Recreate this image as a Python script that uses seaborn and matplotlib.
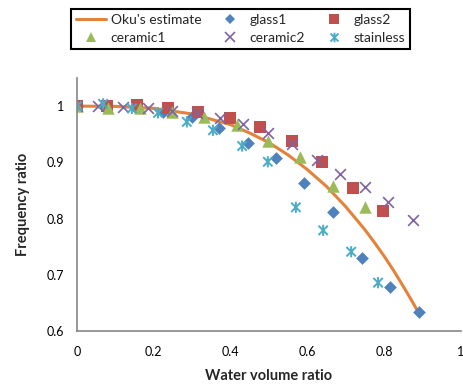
import numpy as np
import pandas as pd
import matplotlib
matplotlib.use("Agg")
import matplotlib.pyplot as plt
from matplotlib.path import Path
from matplotlib.lines import Line2D
import seaborn as sns

# Oku's estimate (curve)
oku_x = [0, 0.1, 0.2, 0.3, 0.4, 0.45, 0.5, 0.55, 0.6, 0.65, 0.7, 0.75, 0.775, 0.8, 0.825, 0.85, 0.87, 0.89]
oku_y = [1.0, 0.9995, 0.996, 0.986, 0.967, 0.952, 0.935, 0.913, 0.887, 0.857, 0.821, 0.780, 0.757, 0.733, 0.707,
         0.679, 0.656, 0.632]

glass1_x = [0, 0.076, 0.15, 0.224, 0.3, 0.37, 0.445, 0.518, 0.591, 0.667, 0.742, 0.815, 0.89]
glass1_y = [1.0, 1.0, 0.998, 0.99, 0.980, 0.961, 0.934, 0.908, 0.863, 0.812, 0.730, 0.678, 0.634]

glass2_x = [0, 0.078, 0.156, 0.237, 0.315, 0.398, 0.477, 0.56, 0.638, 0.719, 0.797]
glass2_y = [1.0, 1.0, 1.002, 0.996, 0.989, 0.979, 0.963, 0.938, 0.900, 0.854, 0.813]

ceramic1_x = [0, 0.081, 0.164, 0.247, 0.331, 0.417, 0.497, 0.581, 0.667, 0.75]
ceramic1_y = [1.0, 0.996, 0.996, 0.989, 0.980, 0.966, 0.938, 0.909, 0.858, 0.820]

ceramic2_x = [0, 0.055, 0.12, 0.185, 0.247, 0.312, 0.372, 0.432, 0.497, 0.56, 0.625, 0.685, 0.75, 0.81, 0.875]
ceramic2_y = [1.0, 1.0, 0.998, 0.996, 0.991, 0.988, 0.979, 0.968, 0.952, 0.932, 0.904, 0.879, 0.856, 0.829, 0.797]

stainless_x = [0, 0.068, 0.143, 0.211, 0.286, 0.354, 0.43, 0.497, 0.57, 0.641, 0.714, 0.784]
stainless_y = [1.0, 1.004, 0.996, 0.988, 0.972, 0.957, 0.929, 0.901, 0.820, 0.779, 0.741, 0.686]

sns.set_style("white")
plt.rcParams['font.family'] = ['Lato', 'DejaVu Sans']

# excel style star: X with a vertical bar
star = Path([(-1, -1), (1, 1), (-1, 1), (1, -1), (0, -1.2), (0, 1.2)],
            [Path.MOVETO, Path.LINETO, Path.MOVETO, Path.LINETO, Path.MOVETO, Path.LINETO])

fig = plt.figure(figsize=(4.64, 3.87), dpi=100)
ax = fig.add_axes([77/464, 56/387, 384/464, 253/387])

sns.lineplot(x=oku_x, y=oku_y, ax=ax, color="#E3823B", linewidth=2.2, zorder=1)

# name, x, y, marker, colour, size, line width (0 = filled)
series = [
    ("glass1", glass1_x, glass1_y, "D", "#4F81BD", 42, 0),
    ("glass2", glass2_x, glass2_y, "s", "#C0504D", 85, 0),
    ("ceramic1", ceramic1_x, ceramic1_y, "^", "#9BBB59", 80, 0),
    ("ceramic2", ceramic2_x, ceramic2_y, "x", "#8064A2", 60, 1.2),
    ("stainless", stainless_x, stainless_y, star, "#4BACC6", 65, 1.4),
]
for name, xs, ys, m, c, s, lw in series:
    if name == "stainless":
        sns.scatterplot(x=xs, y=ys, ax=ax, marker=m, s=s, facecolor="none",
                        edgecolor=c, linewidth=lw, zorder=2)
    elif lw:
        sns.scatterplot(x=xs, y=ys, ax=ax, marker=m, color=c, s=s, linewidth=lw, zorder=2)
    else:
        sns.scatterplot(x=xs, y=ys, ax=ax, marker=m, color=c, s=s, edgecolor=c, linewidth=0, zorder=2)

ax.set_xlim(0, 1)
ax.set_ylim(0.6, 1.05)
ax.set_xticks([0, 0.2, 0.4, 0.6, 0.8, 1])
ax.set_xticklabels(["0", "0.2", "0.4", "0.6", "0.8", "1"])
ax.set_yticks([0.6, 0.7, 0.8, 0.9, 1.0])
ax.set_yticklabels(["0.6", "0.7", "0.8", "0.9", "1"])
for side in ["top", "right"]:
    ax.spines[side].set_visible(False)
for side in ["left", "bottom"]:
    ax.spines[side].set_color("#868686")
    ax.spines[side].set_linewidth(1.2)
ax.tick_params(axis="both", direction="out", length=5, width=1, color="#868686",
               labelsize=9, labelcolor="black", pad=4)
ax.tick_params(axis="x", pad=6)
ax.set_xlabel("Water volume ratio", fontsize=10.5, fontweight="bold", labelpad=8)
ax.set_ylabel("Frequency ratio", fontsize=10.5, fontweight="bold", labelpad=12)

h_oku = Line2D([], [], color="#E3823B", linewidth=2.2)
hs = {}
for name, xs, ys, m, c, s, lw in series:
    hs[name] = Line2D([], [], linestyle="none", marker=m, color=c,
                      markerfacecolor=c if not lw else "none",
                      markersize=np.sqrt(s) * 0.85, markeredgewidth=lw if lw else 0)
handles = [h_oku, hs["ceramic1"], hs["glass1"], hs["ceramic2"], hs["glass2"], hs["stainless"]]
labels = ["Oku's estimate", "ceramic1", "glass1", "ceramic2", "glass2", "stainless"]
leg = fig.legend(handles, labels, ncol=3, loc="upper left",
                 bbox_to_anchor=(71/464, 1 - 9/387), fancybox=False, framealpha=1,
                 fontsize=10, handlelength=2.2, handletextpad=0.3, columnspacing=1.0,
                 borderpad=0.35, labelspacing=0.45, borderaxespad=0)
leg.get_frame().set_edgecolor("black")
leg.get_frame().set_linewidth(1.5)

fig.savefig("out.png", dpi=100)
